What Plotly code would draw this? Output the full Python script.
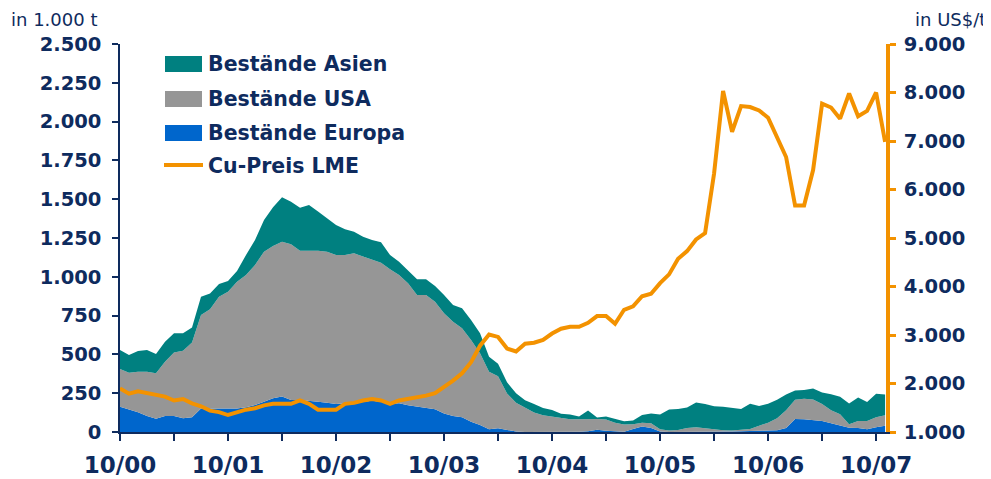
import plotly.graph_objects as go

# Monthly observations, Oct 2000 .. Nov 2007 (index 0 = 10/00)
months = list(range(86))

europa = [163, 146, 127, 103, 86, 103, 103, 88, 95, 152,
          152, 152, 148, 152, 159, 174, 195, 217, 228, 206,
          206, 202, 195, 189, 180, 185, 189, 195, 202, 195,
          180, 185, 172, 163, 157, 146, 120, 103, 95, 66,
          45, 17, 24, 13, 3, 0, 0, 0, 0, 0,
          0, 2, 5, 15, 8, 3, 2, 20, 35, 25,
          3, 0, 0, 2, 3, 3, 2, 2, 3, 5,
          5, 8, 10, 12, 25, 84, 82, 77, 71, 56,
          40, 28, 26, 18, 30, 40]

usa = [243, 236, 262, 286, 292, 350, 410, 436, 481, 602,
       639, 720, 756, 816, 853, 902, 967, 981, 998, 1003,
       962, 966, 973, 973, 960, 955, 962, 935, 906, 896,
       868, 827, 786, 720, 726, 694, 645, 608, 573, 527,
       462, 372, 336, 235, 185, 155, 125, 108, 98, 88,
       82, 80, 79, 69, 72, 57, 47, 30, 25, 31,
       14, 9, 13, 23, 27, 21, 13, 9, 6, 8,
       15, 32, 50, 76, 115, 123, 133, 133, 109, 84,
       75, 22, 45, 53, 65, 68]

asien = [122, 114, 133, 139, 124, 129, 123, 112, 98, 118,
         102, 82, 69, 69, 128, 161, 204, 250, 286, 275,
         277, 295, 252, 215, 194, 166, 140, 128, 129, 131,
         92, 85, 81, 101, 101, 101, 118, 107, 129, 129,
         129, 96, 80, 72, 62, 50, 55, 47, 44, 30,
         30, 18, 54, 10, 20, 27, 20, 24, 50, 63,
         96, 136, 135, 133, 160, 156, 151, 151, 148, 135,
         162, 127, 122, 120, 102, 61, 55, 70, 74, 103,
         112, 134, 151, 123, 151, 134]

cu_preis = [1900, 1790, 1840, 1800, 1770, 1730, 1650, 1680, 1590, 1530,
            1440, 1410, 1350, 1410, 1460, 1490, 1550, 1580, 1580, 1580,
            1650, 1580, 1460, 1460, 1460, 1580, 1600, 1650, 1680, 1650,
            1580, 1650, 1680, 1730, 1750, 1800, 1920, 2060, 2210, 2440,
            2780, 3010, 2960, 2720, 2660, 2820, 2840, 2900, 3030, 3130,
            3170, 3170, 3250, 3390, 3390, 3230, 3520, 3590, 3800, 3850,
            4070, 4250, 4570, 4730, 4970, 5100, 6330, 8030, 7190, 7720,
            7700, 7630, 7480, 7060, 6670, 5670, 5670, 6400, 7770, 7690,
            7460, 7980, 7510, 7620, 8000, 6980]

tick_months = [0, 12, 24, 36, 48, 60, 72, 84]
tick_labels = ["10/00", "10/01", "10/02", "10/03", "10/04", "10/05", "10/06", "10/07"]
minor_months = [6, 18, 30, 42, 54, 66, 78]

NAVY = "#0e2b5e"
TEAL = "#008080"
GRAY = "#969696"
BLUE = "#0066cc"
ORANGE = "#f39200"
FONT = "DejaVu Sans"

fig = go.Figure()
fig.add_trace(go.Scatter(x=months, y=europa, name="Bestände Europa", stackgroup="s",
                         mode="lines", line=dict(width=0, color=BLUE), fillcolor=BLUE,
                         showlegend=False))
fig.add_trace(go.Scatter(x=months, y=usa, name="Bestände USA", stackgroup="s",
                         mode="lines", line=dict(width=0, color=GRAY), fillcolor=GRAY,
                         showlegend=False))
fig.add_trace(go.Scatter(x=months, y=asien, name="Bestände Asien", stackgroup="s",
                         mode="lines", line=dict(width=0, color=TEAL), fillcolor=TEAL,
                         showlegend=False))
fig.add_trace(go.Scatter(x=months, y=cu_preis, name="Cu-Preis LME", yaxis="y2",
                         mode="lines", line=dict(width=4, color=ORANGE),
                         showlegend=False))

# The page body has an 8px default margin; size the figure so it fills the window.
OFF = 8
FIG_W, FIG_H = 991 - OFF, 479 - OFF
PL, PR, PT, PB = 120, 886, 44, 432          # plot area in window pixels
L, T = PL - OFF, PT - OFF
R, B = 991 - PR, 479 - PB
W, H = PR - PL, PB - PT

def px(x):
    return (x - PL) / W

def py(y):
    return (PB - y) / H

legend_items = [("Bestände Asien", TEAL, 64), ("Bestände USA", GRAY, 99),
                ("Bestände Europa", BLUE, 133), ("Cu-Preis LME", ORANGE, 166)]
shapes = []
annotations = []
for i, (label, col, yc) in enumerate(legend_items):
    if i < 3:
        shapes.append(dict(type="rect", xref="paper", yref="paper",
                           x0=px(165), x1=px(202), y0=py(yc + 8), y1=py(yc - 8),
                           fillcolor=col, line=dict(width=0)))
    else:
        shapes.append(dict(type="line", xref="paper", yref="paper",
                           x0=px(164), x1=px(203), y0=py(yc - 1), y1=py(yc - 1),
                           line=dict(color=col, width=4)))
    annotations.append(dict(text=f"<b>{label}</b>", xref="paper", yref="paper",
                            x=px(206), y=py(yc), xanchor="left", yanchor="middle",
                            showarrow=False, font=dict(family=FONT, size=20.5, color=NAVY)))

annotations.append(dict(text="in 1.000 t", xref="paper", yref="paper",
                        x=px(9), y=py(19), xanchor="left", yanchor="middle",
                        showarrow=False, font=dict(family=FONT, size=18, color=NAVY)))
annotations.append(dict(text="in US$/t", xref="paper", yref="paper",
                        x=px(988), y=py(19), xanchor="right", yanchor="middle",
                        showarrow=False, font=dict(family=FONT, size=18, color=NAVY)))

fig.update_layout(
    width=FIG_W, height=FIG_H,
    margin=dict(l=L, r=R, t=T, b=B, pad=0, autoexpand=False),
    paper_bgcolor="white", plot_bgcolor="white",
    separators=",.",
    showlegend=False,
    shapes=shapes,
    annotations=annotations,
    xaxis=dict(range=[0, 85.1], tickmode="array", tickvals=tick_months, ticktext=tick_labels,
               automargin=False,
               showgrid=False, zeroline=False, showline=True, linecolor=NAVY, linewidth=2,
               ticks="outside", ticklen=7, tickwidth=1.5, tickcolor=NAVY,
               tickfont=dict(family=FONT, size=23, color=NAVY, weight="bold"),
               ticklabelstandoff=4,
               minor=dict(ticks="outside", tickmode="array", tickvals=minor_months,
                          ticklen=7, tickwidth=1.5, tickcolor=NAVY, showgrid=False)),
    yaxis=dict(range=[0, 2500], dtick=250, tickformat=",d", showgrid=False, zeroline=False,
               automargin=False,
               showline=True, linecolor=NAVY, linewidth=1.5,
               ticks="outside", ticklen=6, tickwidth=1.5, tickcolor=NAVY,
               tickfont=dict(family=FONT, size=19.5, color=NAVY, weight="bold"),
               ticklabelstandoff=7),
    yaxis2=dict(range=[1000, 9000], dtick=1000, tickformat=",d", overlaying="y", side="right",
                automargin=False,
                showgrid=False, zeroline=False, showline=True, linecolor=ORANGE, linewidth=3.5,
                ticks="outside", ticklen=6, tickwidth=3, tickcolor=ORANGE,
                tickfont=dict(family=FONT, size=19.5, color=NAVY, weight="bold"),
                ticklabelstandoff=4),
)

fig.write_html("out.html")
